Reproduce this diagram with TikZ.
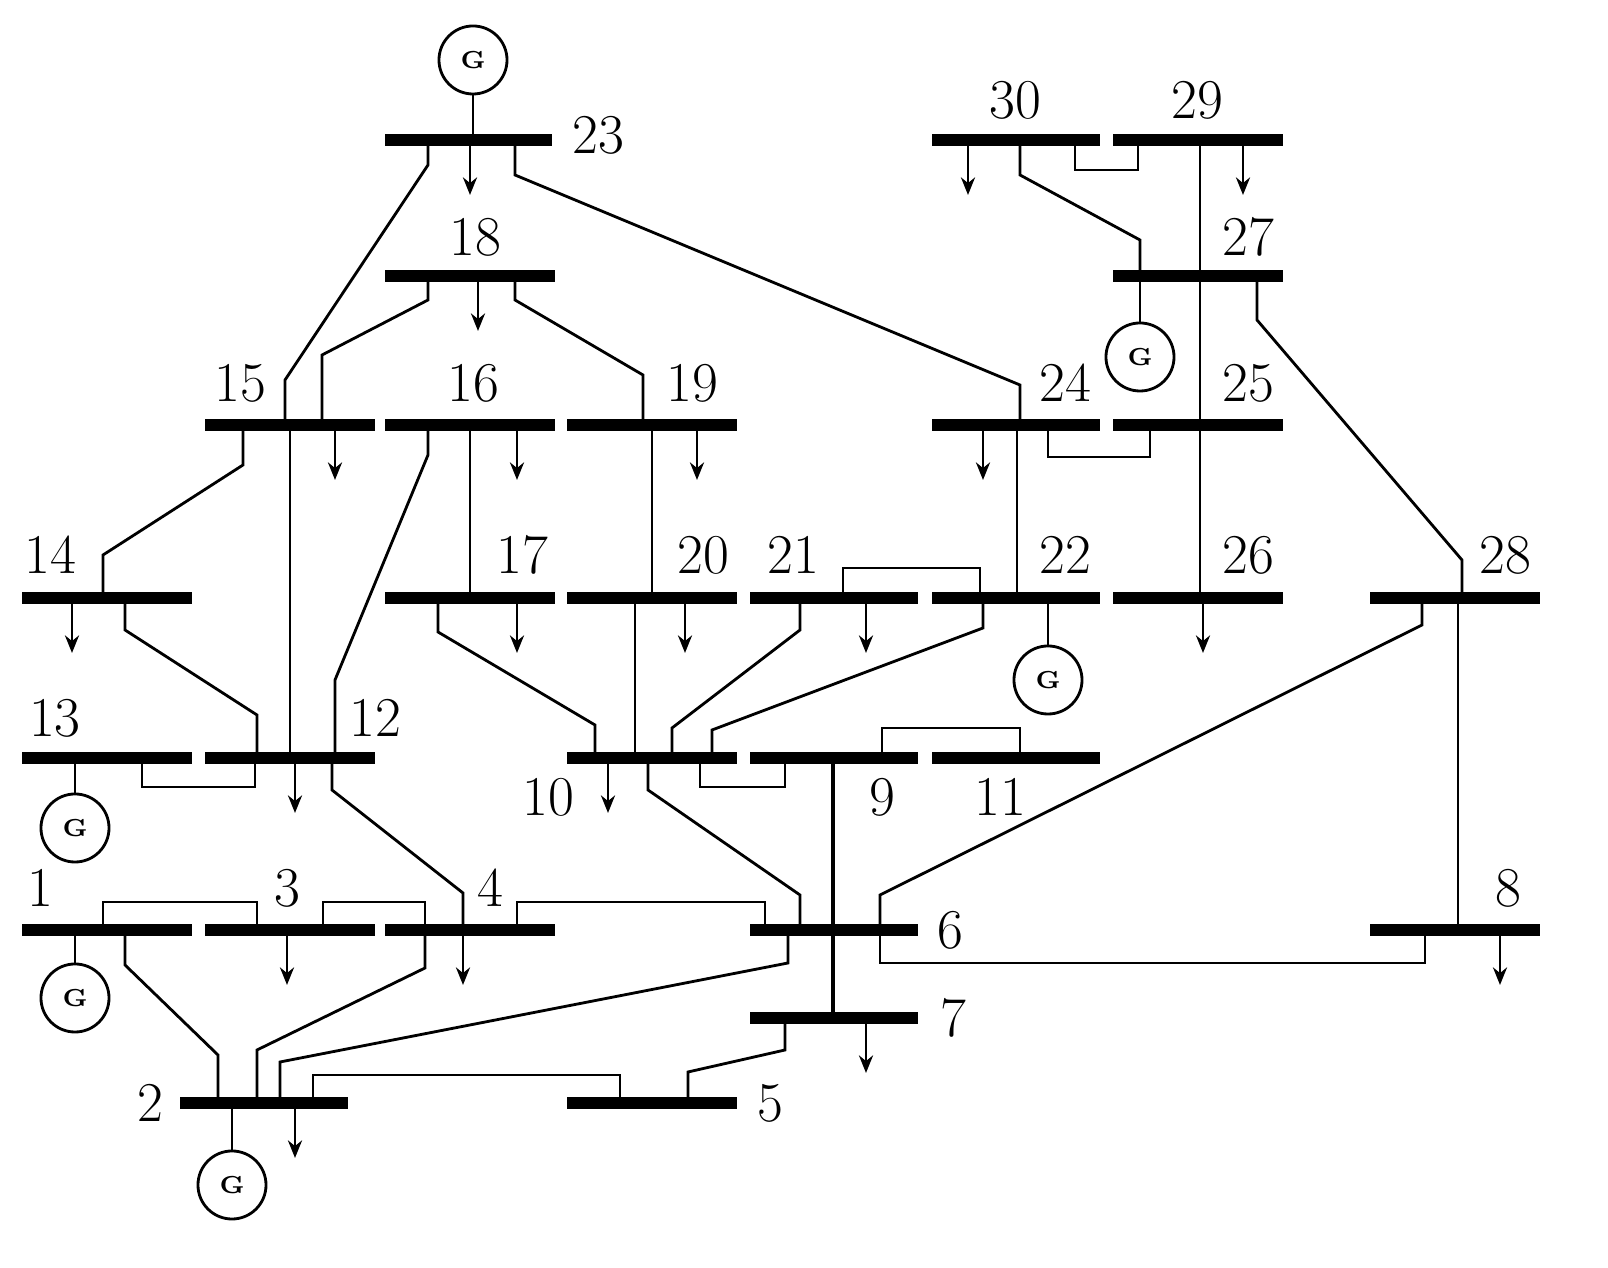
\documentclass[tikz,border=0pt]{standalone}
\usepackage{tikz}
\usetikzlibrary{arrows.meta}
\begin{document}
\begin{tikzpicture}
[x=0.01cm, y=-0.01cm,
% STYLES
bus/.style={line width=3.4pt},
line/.style={line width=0.8pt},
load/.style={line width=0.8pt, -{Stealth[length=5pt,width=4pt]}},
gen/.style={circle, draw, line width=0.8pt, minimum size=0.68cm, inner sep=0pt, font=\scriptsize\bfseries},
num/.style={font=\fontsize{16}{16}\selectfont}]
\useasboundingbox (0,0) rectangle (1608,1268);
% Draw buses: name/x1/x2/y/label x/label y
\foreach \n/\a/\b/\y/\lx/\ly in {23/385/552/140/598/135, 30/932/1100/140/1015/100,
  29/1113/1283/140/1197/100, 18/385/555/276/475/237, 27/1113/1283/276/1248/237,
  15/205/375/425/240/383, 16/385/555/425/473/383, 19/567/737/425/692/383,
  24/932/1100/425/1065/383, 25/1113/1283/425/1248/383, 14/22/192/598/50/555,
  17/385/555/598/522/555, 20/567/737/598/703/555, 21/750/918/598/793/555,
  22/932/1100/598/1065/555, 26/1113/1283/598/1248/555, 28/1370/1540/598/1505/555,
  13/22/192/758/55/718, 12/205/375/758/375/718, 10/567/737/758/548/797,
  9/750/918/758/882/797, 11/932/1100/758/1000/797, 1/22/192/930/40/888,
  3/205/375/930/287/888, 4/385/555/930/490/888, 6/750/918/930/950/930,
  8/1370/1540/930/1508/888, 7/750/918/1018/953/1018, 2/180/348/1103/150/1103,
  5/567/737/1103/770/1103}
{
  \draw[bus] (\a,\y) -- (\b,\y);
  \node[num] (lbl\n) at (\lx,\ly) {\n};
}
% Generators
\node[gen] (g23) at (473,60) {G};
\node[gen] (g27) at (1140,357) {G};
\node[gen] (g22) at (1048,680) {G};
\node[gen] (g13) at (75,828) {G};
\node[gen] (g1) at (75,998) {G};
\node[gen] (g2) at (232,1185) {G};
\draw[line] (g23) -- (473,140);
\draw[line] (g27) -- (1140,276);
\draw[line] (g22) -- (1048,598);
\draw[line] (g13) -- (75,758);
\draw[line] (g1) -- (75,930);
\draw[line] (g2) -- (232,1103);
% Loads
\foreach \x/\y in {470/140, 968/140, 1243/140, 478/276, 335/425, 517/425, 697/425,
  983/425, 72/598, 517/598, 685/598, 866/598, 1203/598, 295/758, 608/758,
  287/930, 463/930, 1500/930, 866/1018, 295/1103}
  \draw[load] (\x,\y) -- (\x,\y+55);
% Lines between buses
\draw[line] (428,140) -- (428,165) -- (285,380) -- (285,425);
\draw[line] (515,140) -- (515,175) -- (1020,385) -- (1020,425);
\draw[line] (428,276) -- (428,300) -- (322,355) -- (322,425);
\draw[line] (515,276) -- (515,300) -- (643,375) -- (643,425);
\draw[line] (1020,140) -- (1020,175) -- (1140,240) -- (1140,276);
\draw[line] (1075,140) -- (1075,170) -- (1138,170) -- (1138,140);
\draw[line] (1200,140) -- (1200,598);
\draw[line] (1257,276) -- (1257,320) -- (1462,560) -- (1462,598);
\draw[line] (1048,425) -- (1048,457) -- (1150,457) -- (1150,425);
\draw[line] (1017,425) -- (1017,598);
\draw[line] (243,425) -- (243,465) -- (103,555) -- (103,598);
\draw[line] (290,425) -- (290,758);
\draw[line] (428,425) -- (428,455) -- (335,680) -- (335,758);
\draw[line] (470,425) -- (470,598);
\draw[line] (652,425) -- (652,598);
\draw[line] (843,598) -- (843,568) -- (980,568) -- (980,598);
\draw[line] (125,598) -- (125,630) -- (257,715) -- (257,758);
\draw[line] (438,598) -- (438,632) -- (595,725) -- (595,758);
\draw[line] (635,598) -- (635,758);
\draw[line] (800,598) -- (800,630) -- (672,728) -- (672,758);
\draw[line] (983,598) -- (983,628) -- (712,730) -- (712,758);
\draw[line] (1422,598) -- (1422,625) -- (880,895) -- (880,930);
\draw[line] (1458,598) -- (1458,930);
\draw[line] (142,758) -- (142,787) -- (255,787) -- (255,758);
\draw[line] (700,758) -- (700,787) -- (785,787) -- (785,758);
\draw[line] (882,758) -- (882,728) -- (1020,728) -- (1020,758);
\draw[line width=1.4pt] (833,758) -- (833,1018);
\draw[line] (332,758) -- (332,790) -- (463,893) -- (463,930);
\draw[line] (648,758) -- (648,790) -- (800,895) -- (800,930);
\draw[line] (103,930) -- (103,902) -- (257,902) -- (257,930);
\draw[line] (323,930) -- (323,902) -- (425,902) -- (425,930);
\draw[line] (517,930) -- (517,902) -- (765,902) -- (765,930);
\draw[line] (880,930) -- (880,963) -- (1425,963) -- (1425,930);
\draw[line] (125,930) -- (125,965) -- (218,1055) -- (218,1103);
\draw[line] (425,930) -- (425,968) -- (257,1050) -- (257,1103);
\draw[line] (788,930) -- (788,963) -- (280,1062) -- (280,1103);
\draw[line] (313,1103) -- (313,1075) -- (620,1075) -- (620,1103);
\draw[line] (785,1018) -- (785,1050) -- (688,1072) -- (688,1103);
\end{tikzpicture}
\end{document}
